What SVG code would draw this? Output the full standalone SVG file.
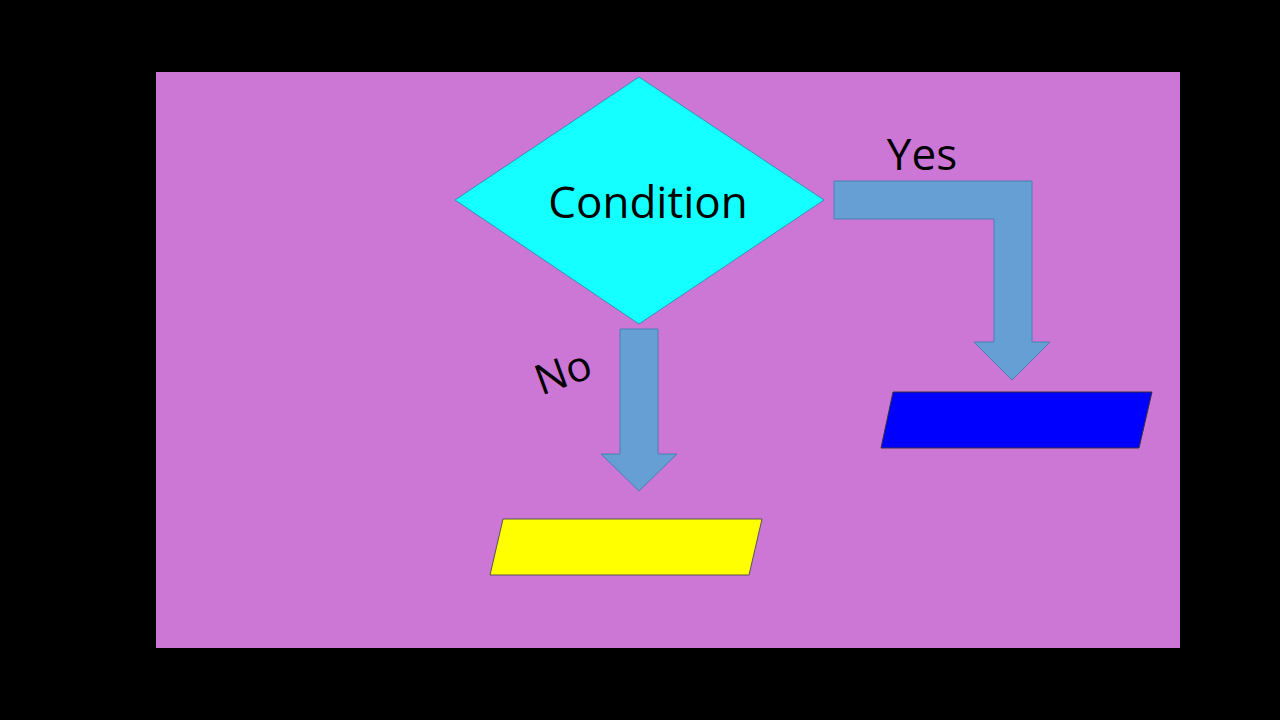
<svg xmlns="http://www.w3.org/2000/svg" width="1280" height="720" viewBox="0 0 1280 720">
<style>
.arrow{fill:#659FD3;stroke:#4A7EB5;stroke-width:1}
.lbl{font-family:"Open Sans","Liberation Sans",sans-serif;fill:#000}
</style>
<rect width="1280" height="720" fill="#000"/>
<rect x="156" y="72" width="1024" height="576" fill="#CC77D6"/>
<g id="condition">
<polygon points="639,77 824,200 639,324 455,200" fill="#14FFFF" stroke="#3A8FB0" stroke-width="1"/>
<text class="lbl" x="648" y="218" font-size="44" text-anchor="middle">Condition</text>
</g>
<g id="yes-output">
<polygon points="893,392 1152,392 1139,448 881,448" fill="#0000FF" stroke="#333" stroke-width="1"/>
</g>
<g id="no-output">
<polygon points="503,519 762,519 749,575 490,575" fill="#FFFF00" stroke="#555" stroke-width="1"/>
</g>
<g id="connectors">
<polygon class="arrow" points="834,181 1032,181 1032,342 1050,342 1012,380 974,342 994,342 994,219 834,219"/>
<polygon class="arrow" points="620,329 658,329 658,454 677,454 639,491 601,454 620,454"/>
<text class="lbl" x="922" y="170" font-size="44" text-anchor="middle">Yes</text>
<text class="lbl" x="0" y="0" font-size="42" text-anchor="middle" transform="translate(568,386) rotate(-20)">No</text>
</g>
</svg>
